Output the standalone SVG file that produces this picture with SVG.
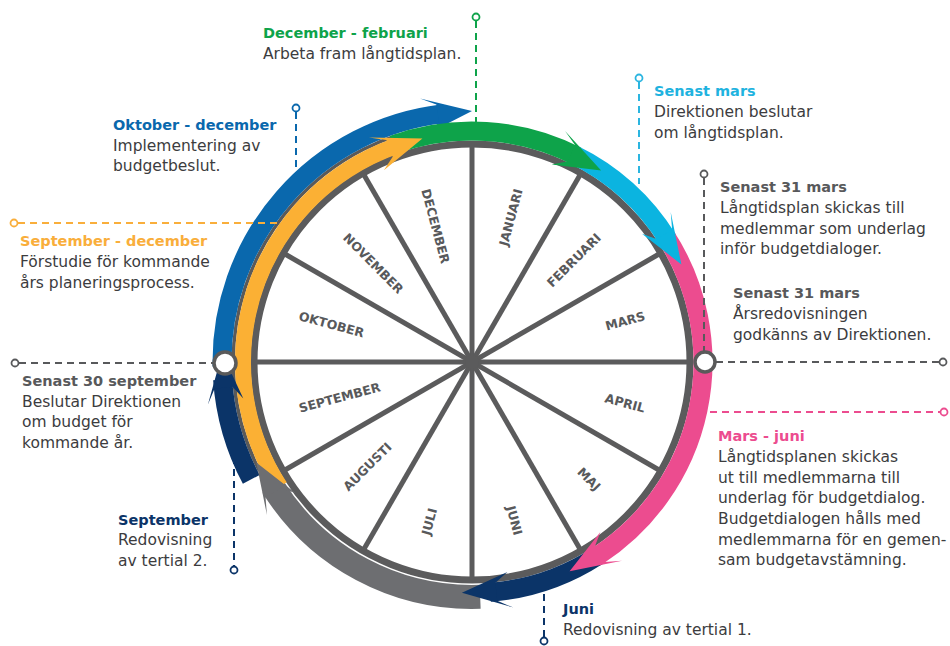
<svg xmlns="http://www.w3.org/2000/svg" xmlns:xlink="http://www.w3.org/1999/xlink" width="950" height="646" viewBox="0 0 950 646">
<style>
.t{font-family:'DejaVu Sans',sans-serif;font-weight:bold;font-size:14.5px}
.b{font-family:'DejaVu Sans',sans-serif;font-size:15.5px;fill:#3c3c3e}
.m{font-family:'DejaVu Sans',sans-serif;font-weight:bold;font-size:12.5px;fill:#58595b}
.band{fill:none}
.lead{fill:none;stroke-width:2;stroke-dasharray:7 5}
.dot{fill:#fff;stroke-width:1.8}
.spoke{stroke:#5b5b5c;stroke-width:5}
</style>
<defs>
<path id="head" d="M0,0 L-52,-12.5 L-35.6,-6.4 L-33,11.5 L-44.5,22.7 Z"/>
</defs>
<rect width="950" height="646" fill="#fff"/>
<g id="wheel">
<circle cx="472" cy="362" r="218" fill="#fff" stroke="#5b5b5c" stroke-width="7"/>
<line class="spoke" x1="472" y1="144" x2="472" y2="580"/>
<line class="spoke" x1="472" y1="144" x2="472" y2="580" transform="rotate(30 472 362)"/>
<line class="spoke" x1="472" y1="144" x2="472" y2="580" transform="rotate(60 472 362)"/>
<line class="spoke" x1="472" y1="144" x2="472" y2="580" transform="rotate(90 472 362)"/>
<line class="spoke" x1="472" y1="144" x2="472" y2="580" transform="rotate(120 472 362)"/>
<line class="spoke" x1="472" y1="144" x2="472" y2="580" transform="rotate(150 472 362)"/>
<circle cx="472" cy="362" r="7" fill="#5b5b5c"/>
<g id="months">
<text class="m" x="179" y="4.5" text-anchor="end" transform="translate(472 362) rotate(-75)">JANUARI</text>
<text class="m" x="179" y="4.5" text-anchor="end" transform="translate(472 362) rotate(-45)">FEBRUARI</text>
<text class="m" x="179" y="4.5" text-anchor="end" transform="translate(472 362) rotate(-15)">MARS</text>
<text class="m" x="179" y="4.5" text-anchor="end" transform="translate(472 362) rotate(15)">APRIL</text>
<text class="m" x="179" y="4.5" text-anchor="end" transform="translate(472 362) rotate(45)">MAJ</text>
<text class="m" x="179" y="4.5" text-anchor="end" transform="translate(472 362) rotate(75)">JUNI</text>
<text class="m" x="-179" y="4.5" transform="translate(472 362) rotate(-75)">JULI</text>
<text class="m" x="-179" y="4.5" transform="translate(472 362) rotate(-45)">AUGUSTI</text>
<text class="m" x="-179" y="4.5" transform="translate(472 362) rotate(-15)">SEPTEMBER</text>
<text class="m" x="-179" y="4.5" transform="translate(472 362) rotate(15)">OKTOBER</text>
<text class="m" x="-179" y="4.5" transform="translate(472 362) rotate(45)">NOVEMBER</text>
<text class="m" x="-179" y="4.5" transform="translate(472 362) rotate(75)">DECEMBER</text>
</g>
</g>
<g id="arrows">
<circle class="band" cx="472" cy="362" r="238.75" stroke="#5a5a5a" stroke-width="3.5" stroke-dasharray="412 2000" transform="rotate(153 472 362)"/>
<circle class="band" cx="472" cy="362" r="250" stroke="#0b3468" stroke-width="19" stroke-dasharray="104.7 2000" transform="rotate(152 472 362)"/>
<circle class="band" cx="472" cy="362" r="250" stroke="#0a68ad" stroke-width="19" stroke-dasharray="366.5 2000" transform="rotate(179 472 362)"/>
<use xlink:href="#head" fill="#0a68ad" transform="rotate(0 472 362) translate(472 111)"/>
<circle class="band" cx="472" cy="362" r="231" stroke="#0ea34a" stroke-width="19" stroke-dasharray="189.5 2000" transform="rotate(-110 472 362)"/>
<circle class="band" cx="472" cy="362" r="231" stroke="#0bb4e0" stroke-width="19" stroke-dasharray="129 2000" transform="rotate(-64 472 362)"/>
<circle class="band" cx="472" cy="362" r="231" stroke="#ec4c8f" stroke-width="19" stroke-dasharray="366.9 2000" transform="rotate(-33 472 362)"/>
<circle class="band" cx="472" cy="362" r="231" stroke="#0b3468" stroke-width="19" stroke-dasharray="114.9 2000" transform="rotate(57 472 362)"/>
<circle class="band" cx="472" cy="362" r="235" stroke="#6d6e71" stroke-width="24" stroke-dasharray="246.1 2000" transform="rotate(88 472 362)"/>
<circle class="band" cx="472" cy="362" r="229" stroke="#fbb034" stroke-width="16" stroke-dasharray="413.7 2000" transform="rotate(147 472 362)"/>
<use xlink:href="#head" fill="#0b3468" transform="rotate(272 472 362) translate(472 112)"/>
<use xlink:href="#head" fill="#0ea34a" transform="rotate(34 472 362) translate(472 131)"/>
<use xlink:href="#head" fill="#0bb4e0" transform="rotate(65 472 362) translate(472 131)"/>
<use xlink:href="#head" fill="#ec4c8f" transform="rotate(155 472 362) translate(472 131)"/>
<use xlink:href="#head" fill="#0b3468" transform="rotate(182.5 472 362) translate(472 131)"/>
<use xlink:href="#head" fill="#fbb034" transform="rotate(347.5 472 362) translate(472 133)"/>
<use xlink:href="#head" fill="#6d6e71" transform="rotate(245 472 362) translate(472 124)"/>
</g>
<g id="connectors">
<line class="lead" stroke="#0ea34a" x1="476" y1="21" x2="476" y2="123"/>
<circle class="dot" stroke="#0ea34a" cx="476" cy="17" r="3.5"/>
<line class="lead" stroke="#2bb5e0" x1="639" y1="82" x2="639" y2="184"/>
<circle class="dot" stroke="#2bb5e0" cx="639" cy="78" r="3.5"/>
<line class="lead" stroke="#58595b" x1="704" y1="178" x2="704" y2="351"/>
<circle class="dot" stroke="#58595b" cx="704" cy="174" r="3.5"/>
<line class="lead" stroke="#58595b" x1="716" y1="362" x2="939" y2="362"/>
<circle class="dot" stroke="#58595b" cx="943" cy="362" r="3.5"/>
<line class="lead" stroke="#ec4c8f" x1="710" y1="412" x2="940" y2="412"/>
<circle class="dot" stroke="#ec4c8f" cx="944" cy="412" r="3.5"/>
<line class="lead" stroke="#0b3468" x1="544" y1="594" x2="544" y2="637"/>
<circle class="dot" stroke="#0b3468" cx="544" cy="641" r="3.5"/>
<line class="lead" stroke="#0b3468" x1="234" y1="445" x2="234" y2="566"/>
<circle class="dot" stroke="#0b3468" cx="234" cy="570" r="3.5"/>
<line class="lead" stroke="#58595b" x1="19" y1="363" x2="213" y2="363"/>
<circle class="dot" stroke="#58595b" cx="15" cy="363" r="3.5"/>
<line class="lead" stroke="#f9ae3b" x1="18" y1="223" x2="278" y2="223"/>
<circle class="dot" stroke="#f9ae3b" cx="14" cy="223" r="3.5"/>
<line class="lead" stroke="#0a68ad" x1="296" y1="112" x2="296" y2="174"/>
<circle class="dot" stroke="#0a68ad" cx="296" cy="108" r="3.5"/>
<circle cx="225" cy="363" r="11" fill="#fff" stroke="#5a5a5a" stroke-width="3.5"/>
<circle cx="705" cy="362" r="10" fill="#fff" stroke="#5a5a5a" stroke-width="3.5"/>
</g>
<g id="n-dec-feb">
<text class="t" x="263" y="38" fill="#0ea34a">December - februari</text>
<text class="b" x="263" y="59">Arbeta fram långtidsplan.</text>
</g>
<g id="n-okt-dec">
<text class="t" x="113" y="130" fill="#0a68ad">Oktober - december</text>
<text class="b" x="113" y="151">Implementering av</text>
<text class="b" x="113" y="171">budgetbeslut.</text>
</g>
<g id="n-sep-dec">
<text class="t" x="20" y="246" fill="#f9ae3b">September - december</text>
<text class="b" x="20" y="267">Förstudie för kommande</text>
<text class="b" x="20" y="288">års planeringsprocess.</text>
</g>
<g id="n-senast-mars">
<text class="t" x="654" y="96" fill="#1fb3df">Senast mars</text>
<text class="b" x="654" y="117">Direktionen beslutar</text>
<text class="b" x="654" y="138">om långtidsplan.</text>
</g>
<g id="n-31mars-a">
<text class="t" x="720" y="192" fill="#58595b">Senast 31 mars</text>
<text class="b" x="720" y="213">Långtidsplan skickas till</text>
<text class="b" x="720" y="234">medlemmar som underlag</text>
<text class="b" x="720" y="254">inför budgetdialoger.</text>
</g>
<g id="n-31mars-b">
<text class="t" x="733" y="298" fill="#58595b">Senast 31 mars</text>
<text class="b" x="733" y="319">Årsredovisningen</text>
<text class="b" x="733" y="340">godkänns av Direktionen.</text>
</g>
<g id="n-mars-juni">
<text class="t" x="718" y="441" fill="#ec4c8f">Mars - juni</text>
<text class="b" x="718" y="462">Långtidsplanen skickas</text>
<text class="b" x="718" y="483">ut till medlemmarna till</text>
<text class="b" x="718" y="503">underlag för budgetdialog.</text>
<text class="b" x="718" y="524">Budgetdialogen hålls med</text>
<text class="b" x="718" y="545">medlemmarna för en gemen-</text>
<text class="b" x="718" y="565">sam budgetavstämning.</text>
</g>
<g id="n-juni">
<text class="t" x="563" y="614" fill="#0b3468">Juni</text>
<text class="b" x="563" y="635">Redovisning av tertial 1.</text>
</g>
<g id="n-30sep">
<text class="t" x="22" y="386" fill="#58595b">Senast 30 september</text>
<text class="b" x="22" y="407">Beslutar Direktionen</text>
<text class="b" x="22" y="427">om budget för</text>
<text class="b" x="22" y="448">kommande år.</text>
</g>
<g id="n-september">
<text class="t" x="118" y="525" fill="#0b3468">September</text>
<text class="b" x="118" y="545">Redovisning</text>
<text class="b" x="118" y="566">av tertial 2.</text>
</g>
</svg>
